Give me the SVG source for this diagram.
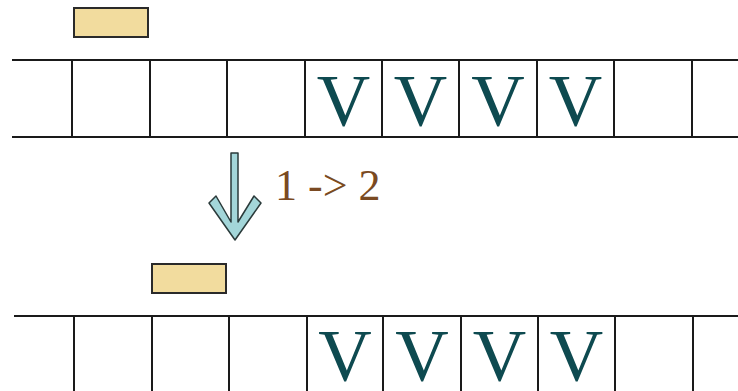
<svg xmlns="http://www.w3.org/2000/svg" width="738" height="391" viewBox="0 0 738 391">
<style>
.ln{stroke:#1a1a1a;stroke-width:2;fill:none}
.head{fill:#f2dc9e;stroke:#2a2a2a;stroke-width:2}
.v{font-family:"Liberation Serif",serif;font-size:74px;fill:#0e4a50;text-anchor:middle}
.lbl{font-family:"Liberation Serif",serif;font-size:44px;fill:#7a4a22}
</style>
<rect width="738" height="391" fill="#ffffff"/>
<g id="tape1">
<line class="ln" x1="12" y1="60" x2="738" y2="60"/>
<line class="ln" x1="12" y1="137" x2="738" y2="137"/>
<line class="ln" x1="72" y1="60" x2="72" y2="137"/>
<line class="ln" x1="150" y1="60" x2="150" y2="137"/>
<line class="ln" x1="227" y1="60" x2="227" y2="137"/>
<line class="ln" x1="305" y1="60" x2="305" y2="137"/>
<line class="ln" x1="382" y1="60" x2="382" y2="137"/>
<line class="ln" x1="459" y1="60" x2="459" y2="137"/>
<line class="ln" x1="537" y1="60" x2="537" y2="137"/>
<line class="ln" x1="614" y1="60" x2="614" y2="137"/>
<line class="ln" x1="692" y1="60" x2="692" y2="137"/>
<text class="v" x="343.5" y="126">V</text>
<text class="v" x="420.5" y="126">V</text>
<text class="v" x="498" y="126">V</text>
<text class="v" x="575.5" y="126">V</text>
</g>
<g id="head1"><rect class="head" x="74" y="8" width="74" height="29"/></g>
<g id="transition">
<polygon points="231,153 238,153 238,222 254,196 261,203 235,240 209,203 216,196 231,222" fill="#a3d6d9" stroke="#2a3a3a" stroke-width="1.5" stroke-linejoin="round"/>
<text class="lbl" x="275" y="200">1 -&gt; 2</text>
</g>
<g id="head2"><rect class="head" x="152" y="264" width="74" height="29"/></g>
<g id="tape2">
<line class="ln" x1="14" y1="316" x2="738" y2="316"/>
<line class="ln" x1="74" y1="316" x2="74" y2="391"/>
<line class="ln" x1="152" y1="316" x2="152" y2="391"/>
<line class="ln" x1="229" y1="316" x2="229" y2="391"/>
<line class="ln" x1="307" y1="316" x2="307" y2="391"/>
<line class="ln" x1="383" y1="316" x2="383" y2="391"/>
<line class="ln" x1="461" y1="316" x2="461" y2="391"/>
<line class="ln" x1="538" y1="316" x2="538" y2="391"/>
<line class="ln" x1="615" y1="316" x2="615" y2="391"/>
<line class="ln" x1="693" y1="316" x2="693" y2="391"/>
<text class="v" x="345" y="381">V</text>
<text class="v" x="422" y="381">V</text>
<text class="v" x="499.5" y="381">V</text>
<text class="v" x="576.5" y="381">V</text>
</g>
</svg>
